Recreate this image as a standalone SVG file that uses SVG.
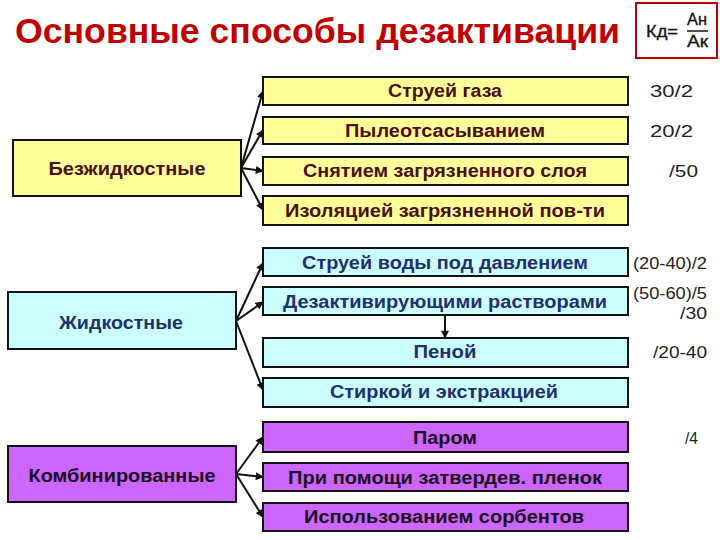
<svg xmlns="http://www.w3.org/2000/svg" width="720" height="540" viewBox="0 0 720 540">
<style>
.t{font-family:"Liberation Sans",Arial,sans-serif;font-weight:bold;font-size:18px;text-anchor:middle}
.y{fill:#FFFF99;stroke:#111;stroke-width:2}
.c{fill:#CCFFFF;stroke:#111;stroke-width:2}
.p{fill:#CC66FF;stroke:#111;stroke-width:2}
.ty{fill:#4A0E0E}
.tc{fill:#1F2F6B}
.tp{fill:#1A0B20}
.n{font-family:"Liberation Sans",Arial,sans-serif;font-size:17px;fill:#222}
.ln{stroke:#111;stroke-width:2;fill:none;marker-end:url(#ah)}
</style>
<defs>
<marker id="ah" viewBox="0 0 10 10" refX="9" refY="5" markerWidth="4.5" markerHeight="4" orient="auto" markerUnits="strokeWidth">
<path d="M0,0 L10,5 L0,10 z" fill="#111"/>
</marker>
</defs>
<rect width="720" height="540" fill="#fff"/>
<g id="title">
<text x="15" y="43" font-family="'Liberation Sans',Arial,sans-serif" font-weight="bold" font-size="35" fill="#C00000" textLength="605" lengthAdjust="spacingAndGlyphs">Основные способы дезактивации</text>
</g>
<g id="formula">
<rect x="636" y="3" width="81" height="55" fill="#fff" stroke="#C00000" stroke-width="2"/>
<text x="646" y="37" font-family="'Liberation Sans',Arial,sans-serif" font-size="16" fill="#111" stroke="#111" stroke-width="0.3" textLength="32" lengthAdjust="spacingAndGlyphs">Кд=</text>
<text x="687" y="25" font-family="'Liberation Sans',Arial,sans-serif" font-size="16" fill="#111" stroke="#111" stroke-width="0.3" textLength="20" lengthAdjust="spacingAndGlyphs">Ан</text>
<line x1="687" y1="31" x2="708" y2="31" stroke="#111" stroke-width="1.5"/>
<text x="687" y="47" font-family="'Liberation Sans',Arial,sans-serif" font-size="16" fill="#111" stroke="#111" stroke-width="0.3" textLength="21" lengthAdjust="spacingAndGlyphs">Ак</text>
</g>
<g id="connectors">
<line class="ln" x1="241" y1="168" x2="263" y2="91"/>
<line class="ln" x1="241" y1="168" x2="263" y2="130"/>
<line class="ln" x1="241" y1="168" x2="263" y2="171"/>
<line class="ln" x1="241" y1="168" x2="263" y2="210"/>
<line class="ln" x1="236" y1="321" x2="263" y2="263"/>
<line class="ln" x1="236" y1="321" x2="263" y2="302"/>
<line class="ln" x1="236" y1="321" x2="263" y2="390"/>
<line class="ln" x1="445" y1="315" x2="445" y2="338"/>
<line class="ln" x1="236" y1="474" x2="263" y2="437"/>
<line class="ln" x1="236" y1="474" x2="263" y2="477"/>
<line class="ln" x1="236" y1="474" x2="263" y2="517"/>
</g>
<g id="bezh">
<rect class="y" x="13" y="140" width="228" height="56"/>
<text class="t ty" x="127" y="175" textLength="157" lengthAdjust="spacingAndGlyphs">Безжидкостные</text>
</g>
<g id="zhid">
<rect class="c" x="8" y="292" width="228" height="57"/>
<text class="t tc" x="121" y="329" textLength="124" lengthAdjust="spacingAndGlyphs">Жидкостные</text>
</g>
<g id="komb">
<rect class="p" x="8" y="446" width="228" height="56"/>
<text class="t tp" x="122" y="482" textLength="187" lengthAdjust="spacingAndGlyphs">Комбинированные</text>
</g>
<g id="gas">
<rect class="y" x="263" y="77" width="365" height="28"/>
<text class="t ty" x="445" y="97" textLength="114" lengthAdjust="spacingAndGlyphs">Струей газа</text>
</g>
<g id="dust">
<rect class="y" x="263" y="117" width="365" height="27"/>
<text class="t ty" x="445" y="137" textLength="200" lengthAdjust="spacingAndGlyphs">Пылеотсасыванием</text>
</g>
<g id="layer">
<rect class="y" x="263" y="157" width="365" height="28"/>
<text class="t ty" x="445" y="177" textLength="284" lengthAdjust="spacingAndGlyphs">Снятием загрязненного слоя</text>
</g>
<g id="isol">
<rect class="y" x="263" y="196" width="365" height="29"/>
<text class="t ty" x="445" y="217" textLength="320" lengthAdjust="spacingAndGlyphs">Изоляцией загрязненной пов-ти</text>
</g>
<g id="water">
<rect class="c" x="263" y="248" width="365" height="28"/>
<text class="t tc" x="445" y="269" textLength="286" lengthAdjust="spacingAndGlyphs">Струей воды под давлением</text>
</g>
<g id="solutions">
<rect class="c" x="263" y="287" width="365" height="28"/>
<text class="t tc" x="445" y="308" textLength="324" lengthAdjust="spacingAndGlyphs">Дезактивирующими растворами</text>
</g>
<g id="foam">
<rect class="c" x="263" y="338" width="365" height="29"/>
<text class="t tc" x="445" y="358" textLength="63" lengthAdjust="spacingAndGlyphs">Пеной</text>
</g>
<g id="wash">
<rect class="c" x="263" y="378" width="365" height="29"/>
<text class="t tc" x="444" y="398" textLength="228" lengthAdjust="spacingAndGlyphs">Стиркой и экстракцией</text>
</g>
<g id="steam">
<rect class="p" x="263" y="422" width="365" height="30"/>
<text class="t tp" x="445" y="444" textLength="64" lengthAdjust="spacingAndGlyphs">Паром</text>
</g>
<g id="films">
<rect class="p" x="263" y="463" width="365" height="28"/>
<text class="t tp" x="445" y="484" textLength="314" lengthAdjust="spacingAndGlyphs">При помощи затвердев. пленок</text>
</g>
<g id="sorb">
<rect class="p" x="263" y="503" width="365" height="28"/>
<text class="t tp" x="444" y="523" textLength="280" lengthAdjust="spacingAndGlyphs">Использованием сорбентов</text>
</g>
<g id="values">
<text class="n" x="650" y="97" textLength="43" lengthAdjust="spacingAndGlyphs">30/2</text>
<text class="n" x="650" y="137" textLength="43" lengthAdjust="spacingAndGlyphs">20/2</text>
<text class="n" x="669" y="177" textLength="29" lengthAdjust="spacingAndGlyphs">/50</text>
<text class="n" x="633" y="269" textLength="74" lengthAdjust="spacingAndGlyphs">(20-40)/2</text>
<text class="n" x="633" y="299" textLength="74" lengthAdjust="spacingAndGlyphs">(50-60)/5</text>
<text class="n" x="680" y="319" textLength="27" lengthAdjust="spacingAndGlyphs">/30</text>
<text class="n" x="653" y="358" textLength="54" lengthAdjust="spacingAndGlyphs">/20-40</text>
<text class="n" x="685" y="444" textLength="13" lengthAdjust="spacingAndGlyphs">/4</text>
</g>
</svg>
